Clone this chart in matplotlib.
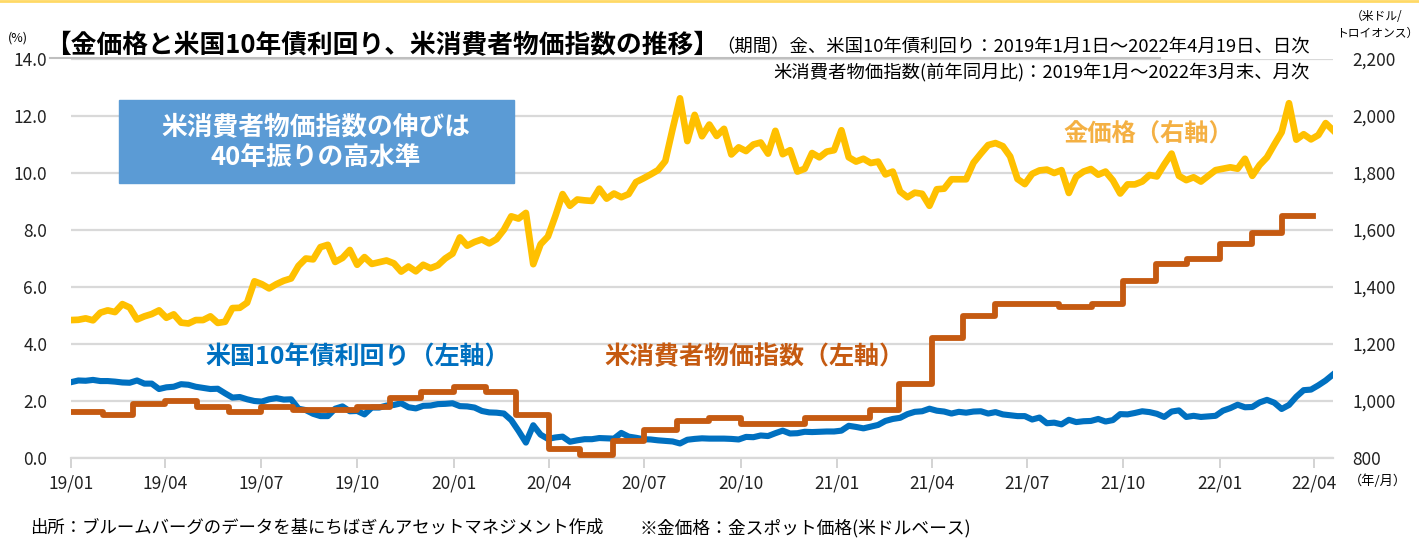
import matplotlib
matplotlib.use("Agg")
import matplotlib.pyplot as plt
import matplotlib.dates as mdates
from matplotlib.patches import Rectangle
from matplotlib.lines import Line2D
import pandas as pd

plt.rcParams['font.family'] = ['Noto Sans CJK JP', 'DejaVu Sans']

# weekly samples, 2019-01-01 .. 2022-04-19
weeks = pd.date_range("2019-01-01", "2022-04-19", freq="7D")

gold = [
    # 2019
    1284, 1285, 1290, 1283, 1310,
    1318, 1312, 1340, 1328,
    1286, 1297, 1305, 1318,
    1292, 1304, 1275, 1272, 1284,
    1284, 1297, 1274, 1278,
    1326, 1327, 1345, 1420,
    1410, 1395, 1410, 1422, 1430,
    1474, 1500, 1497, 1540,
    1548, 1488, 1502, 1530,
    1478, 1505, 1481, 1487, 1493,
    1483, 1454, 1472, 1455,
    1478, 1466, 1476, 1500, 1517,
    # 2020
    1574, 1545, 1558, 1567,
    1553, 1568, 1601, 1648,
    1640, 1660, 1480, 1550, 1577,
    1648, 1726, 1685, 1707,
    1704, 1702, 1745, 1710,
    1728, 1715, 1726, 1768, 1781,
    1795, 1810, 1842, 1955,
    2062, 1912, 2004, 1929,
    1970, 1930, 1955, 1865, 1890,
    1877, 1900, 1907, 1868,
    1948, 1866, 1880, 1805,
    1815, 1870, 1855, 1875, 1880,
    # 2021
    1950, 1855, 1840, 1850,
    1835, 1840, 1795, 1805,
    1735, 1715, 1731, 1727, 1685,
    1743, 1745, 1778, 1778,
    1778, 1836, 1868, 1898,
    1905, 1894, 1858, 1779, 1761,
    1797, 1809, 1812, 1800,
    1810, 1730, 1787, 1805, 1814,
    1794, 1805, 1774, 1728,
    1760, 1760, 1770, 1793,
    1788, 1830, 1868, 1790, 1775,
    1785, 1770, 1790, 1810,
    # 2022
    1815, 1820, 1815, 1850,
    1790, 1828, 1855, 1900,
    1943, 2045, 1917, 1936, 1918,
    1933, 1975, 1950,
]

yield10 = [
    # 2019
    2.66, 2.72, 2.71, 2.74, 2.70,
    2.70, 2.68, 2.65, 2.64,
    2.72, 2.61, 2.61, 2.42,
    2.48, 2.50, 2.59, 2.57, 2.50,
    2.46, 2.42, 2.43, 2.27,
    2.12, 2.14, 2.06, 2.00,
    1.98, 2.06, 2.10, 2.05, 2.06,
    1.73, 1.68, 1.55, 1.47,
    1.47, 1.73, 1.81, 1.64,
    1.65, 1.53, 1.77, 1.77, 1.84,
    1.86, 1.92, 1.78, 1.74,
    1.83, 1.84, 1.89, 1.90, 1.92,
    # 2020
    1.82, 1.81, 1.77, 1.65,
    1.60, 1.59, 1.56, 1.33,
    0.95, 0.54, 1.15, 0.82, 0.67,
    0.72, 0.75, 0.57, 0.62,
    0.66, 0.66, 0.70, 0.69,
    0.68, 0.88, 0.75, 0.71, 0.66,
    0.65, 0.62, 0.60, 0.58,
    0.51, 0.64, 0.67, 0.69,
    0.68, 0.68, 0.68, 0.67, 0.65,
    0.74, 0.73, 0.79, 0.77,
    0.87, 0.96, 0.86, 0.87,
    0.92, 0.91, 0.92, 0.93, 0.93,
    # 2021
    0.96, 1.13, 1.09, 1.04,
    1.10, 1.16, 1.30, 1.37,
    1.41, 1.54, 1.62, 1.64, 1.73,
    1.66, 1.63, 1.56, 1.62,
    1.59, 1.63, 1.64, 1.56,
    1.61, 1.53, 1.50, 1.47, 1.47,
    1.35, 1.42, 1.22, 1.24,
    1.18, 1.34, 1.26, 1.29, 1.30,
    1.37, 1.28, 1.33, 1.54,
    1.53, 1.58, 1.64, 1.61,
    1.55, 1.44, 1.63, 1.67, 1.44,
    1.48, 1.44, 1.46, 1.48,
    # 2022
    1.66, 1.75, 1.87, 1.78,
    1.79, 1.95, 2.04, 1.94,
    1.72, 1.86, 2.15, 2.38, 2.40,
    2.55, 2.72, 2.93,
]

# US CPI (YoY %), monthly 2019/01 - 2022/03
cpi_months = pd.date_range("2019-01-01", "2022-03-01", freq="MS")
cpi = [
    1.6, 1.5, 1.9, 2.0, 1.8, 1.6, 1.8, 1.7, 1.7, 1.8, 2.1, 2.3,
    2.5, 2.3, 1.5, 0.3, 0.1, 0.6, 1.0, 1.3, 1.4, 1.2, 1.2, 1.4,
    1.4, 1.7, 2.6, 4.2, 5.0, 5.4, 5.4, 5.3, 5.4, 6.2, 6.8, 7.0,
    7.5, 7.9, 8.5,
]
cpi_end = pd.Timestamp("2022-03-31")

W, H = 1419, 543
fig = plt.figure(figsize=(W / 100, H / 100), dpi=100)
ax = fig.add_axes([71 / W, 85 / H, (1333 - 71) / W, (458 - 59) / H])
ax2 = ax.twinx()

ax.plot(weeks, yield10, color="#0070C0", lw=4.4, solid_joinstyle="round", zorder=3)
ax.plot(list(cpi_months) + [cpi_end], cpi + [cpi[-1]], drawstyle="steps-post",
        color="#C55A11", lw=4.2, zorder=4)
ax2.plot(weeks, gold, color="#FFC000", lw=4.8, solid_joinstyle="round")

ax.set_ylim(0, 14)
ax.set_yticks([0, 2, 4, 6, 8, 10, 12, 14])
ax.set_yticklabels([f"{v:.1f}" for v in range(0, 15, 2)])
ax2.set_ylim(800, 2200)
ax2.set_yticks(range(800, 2201, 200))
ax2.set_yticklabels([f"{v:,}" for v in range(800, 2201, 200)])
ax.set_xlim(pd.Timestamp("2019-01-01"), pd.Timestamp("2022-04-19"))
ax.xaxis.set_major_locator(mdates.MonthLocator(bymonth=[1, 4, 7, 10]))
ax.xaxis.set_major_formatter(mdates.DateFormatter("%y/%m"))

ax.grid(axis="y", color="#D9D9D9", lw=1.6, zorder=0)
ax.set_axisbelow(True)
for a in (ax, ax2):
    for s in a.spines.values():
        s.set_visible(False)
ax.spines["bottom"].set_visible(True)
ax.spines["bottom"].set_color("#D9D9D9")
ax.spines["bottom"].set_linewidth(1.6)

ax.tick_params(axis="y", length=0, pad=17, labelsize=12.5, labelcolor="#222222")
ax2.tick_params(axis="y", length=0, pad=14, labelsize=12.5, labelcolor="#222222")
ax.tick_params(axis="x", length=7, width=1.3, color="#D0D0D0", pad=5,
               labelsize=12.5, labelcolor="#222222")


def fx(x):
    return x / W


def fy(y):
    return 1 - y / H


# top yellow rule
fig.add_artist(Line2D([0, 1], [fy(1)] * 2, color="#FFD966", lw=2))

fig.text(fx(8), fy(38), "(%)", fontsize=9, va="center", ha="left")
fig.text(fx(45), fy(46), "【金価格と米国10年債利回り、米消費者物価指数の推移】",
         fontsize=18.5, fontweight="bold", va="center", ha="left")
fig.add_artist(Line2D([fx(50), fx(1160)], [fy(58)] * 2, color="#BFBFBF", lw=1.5))
fig.text(fx(1310), fy(47), "（期間）金、米国10年債利回り：2019年1月1日～2022年4月19日、日次",
         fontsize=13.2, va="center", ha="right")
fig.text(fx(1310), fy(72), "米消費者物価指数(前年同月比)：2019年1月～2022年3月末、月次",
         fontsize=13.2, va="center", ha="right")
fig.text(fx(1377), fy(25), "（米ドル/\nトロイオンス）", fontsize=8.5, va="center",
         ha="center", linespacing=1.3)
fig.text(fx(1378), fy(481), "（年/月）", fontsize=9.5, va="center", ha="center")

fig.add_artist(Rectangle((fx(119), fy(183)), 395 / W, 83 / H,
                         transform=fig.transFigure, color="#5B9BD5"))
fig.text(fx(316), fy(142), "米消費者物価指数の伸びは\n40年振りの高水準", color="white",
         fontsize=18.5, fontweight="bold", va="center", ha="center", linespacing=1.2)

fig.text(fx(1148), fy(134), "金価格（右軸）", color="#F4B043", fontsize=17.5,
         fontweight="bold", va="center", ha="center")
fig.text(fx(358), fy(357), "米国10年債利回り（左軸）", color="#0070C0", fontsize=18,
         fontweight="bold", va="center", ha="center")
fig.text(fx(754), fy(357), "米消費者物価指数（左軸）", color="#C55A11", fontsize=18,
         fontweight="bold", va="center", ha="center")

fig.text(fx(30), fy(528), "出所：ブルームバーグのデータを基にちばぎんアセットマネジメント作成",
         fontsize=12.5, va="center", ha="left")
fig.text(fx(640), fy(528), "※金価格：金スポット価格(米ドルベース)",
         fontsize=12.8, va="center", ha="left")

fig.savefig("out.png", dpi=100)
